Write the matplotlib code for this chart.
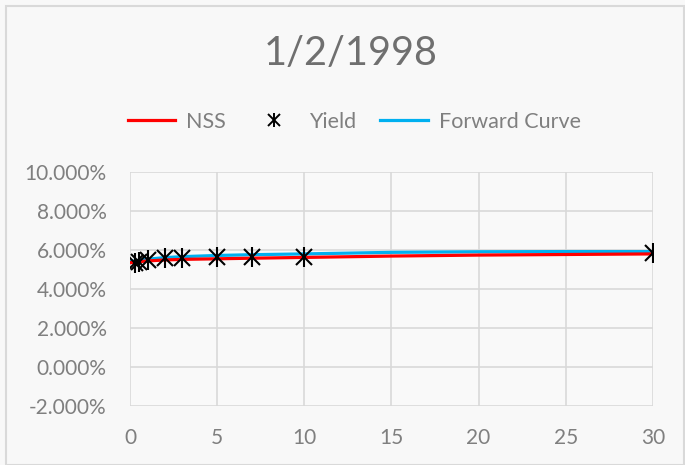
import matplotlib.pyplot as plt
from matplotlib.ticker import FuncFormatter
from matplotlib.lines import Line2D

# data (percent)
mat_yield = [0.25, 0.5, 1, 2, 3, 5, 7, 10, 30]
yields = [5.33, 5.38, 5.49, 5.59, 5.59, 5.64, 5.66, 5.64, 5.85]

mat_curve = [0, 0.5, 1, 2, 3, 5, 7, 10, 15, 20, 25, 30]
nss = [5.35, 5.40, 5.44, 5.49, 5.52, 5.55, 5.58, 5.62, 5.69, 5.74, 5.77, 5.80]
fwd = [5.40, 5.47, 5.53, 5.61, 5.66, 5.72, 5.76, 5.80, 5.88, 5.91, 5.92, 5.92]

title = '1/2/1998'
xticks = [0, 5, 10, 15, 20, 25, 30]
yticks = [-2, 0, 2, 4, 6, 8, 10]

plt.rcParams['font.family'] = ['Lato', 'DejaVu Sans']
txt = '#7f7f7f'
grid = '#d9d9d9'

fig = plt.figure(figsize=(6.85, 4.65), dpi=100, facecolor='#f8f8f8')
# outer chart frame
fig.patches.append(plt.Rectangle((0.009, 0.0), 0.99, 0.987, transform=fig.transFigure,
                                 fill=False, edgecolor='#d9d9d9', linewidth=1.5))

ax = fig.add_axes([0.19, 0.127, 0.763, 0.503])
ax.set_facecolor('#f9f9f9')

ax.plot(mat_curve, nss, color='#ff0000', lw=2.3, label='NSS', zorder=3)
ax.plot(mat_curve, fwd, color='#00b0f0', lw=2.3, label='Forward Curve', zorder=2)
ax.plot(mat_yield, yields, ls='none', marker='x', ms=11, mew=1.5, color='black', zorder=4)
ax.plot(mat_yield, yields, ls='none', marker='|', ms=15, mew=1.5, color='black', zorder=4)

ax.set_xlim(0, 30)
ax.set_ylim(-2, 10)
ax.set_xticks(xticks)
ax.set_yticks(yticks)
ax.yaxis.set_major_formatter(FuncFormatter(lambda v, p: f'{v:.3f}%'))
ax.grid(True, color=grid, lw=1.2)
ax.set_axisbelow(True)
for s in ax.spines.values():
    s.set_visible(False)
ax.tick_params(length=0, colors=txt, labelsize=15)
ax.tick_params(axis='y', pad=17)
ax.tick_params(axis='x', pad=16)

fig.text(0.512, 0.885, title, ha='center', va='center', fontsize=28.5, color='#6f6f6f')

# legend
h_nss = Line2D([], [], color='#ff0000', lw=2.3)
h_yld = (Line2D([], [], ls='none', marker='x', ms=8, mew=1.4, color='black'),
         Line2D([], [], ls='none', marker='|', ms=10, mew=1.4, color='black'))
h_fwd = Line2D([], [], color='#00b0f0', lw=2.3)
leg = fig.legend([h_nss, h_yld, h_fwd], ['NSS', 'Yield', 'Forward Curve'],
                 loc='center', bbox_to_anchor=(0.517, 0.738), ncol=3, frameon=False,
                 fontsize=15.5, handlelength=2.2, columnspacing=1.15, handletextpad=0.5)
for t in leg.get_texts():
    t.set_color(txt)

fig.savefig('out.png', dpi=100, facecolor=fig.get_facecolor())
